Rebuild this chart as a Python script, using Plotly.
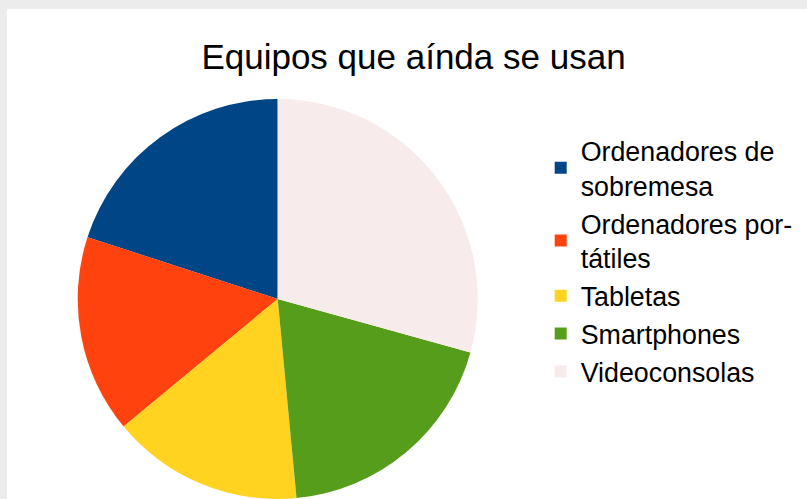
import plotly.graph_objects as go

# Data
labels = ["Ordenadores de<br>sobremesa", "Ordenadores por-<br>tátiles", "Tabletas", "Smartphones", "Videoconsolas"]
values = [20.0, 16.0, 15.5, 19.2, 29.3]
colors = ["#004586", "#ff420e", "#ffd320", "#579d1c", "#f8ebeb"]
title_text = "Equipos que aínda se usan"

W, H = 807, 499
BG = "#ececec"

first_angle = 360.0 * values[0] / sum(values)

fig = go.Figure(go.Pie(
    labels=labels,
    values=values,
    sort=False,
    direction="counterclockwise",
    rotation=-first_angle,
    marker=dict(colors=colors, line=dict(width=0)),
    textinfo="none",
    hoverinfo="label+value",
    domain=dict(x=[77.7 / W, 477.7 / W], y=[1 - 499 / H, 1 - 99 / H]),
))

fig.update_layout(
    width=W, height=H,
    margin=dict(l=0, r=0, t=0, b=0),
    paper_bgcolor=BG,
    font=dict(family="Liberation Sans, Arial, sans-serif", color="#000000"),
    title=dict(text=title_text, x=413.5 / W, xanchor="center", xref="container",
               y=1 - 56.5 / H, yanchor="middle", yref="container",
               font=dict(size=35, color="#000000")),
    showlegend=True,
    legend=dict(x=540.7 / W, xanchor="left", y=1 - 261 / H, yanchor="middle",
                font=dict(size=26.8, color="#000000"), bgcolor="rgba(0,0,0,0)",
                traceorder="normal"),
    shapes=[dict(type="rect", xref="paper", yref="paper",
                 x0=7 / W, x1=1.01, y0=-0.01, y1=1 - 9 / H,
                 fillcolor="#ffffff", line=dict(width=0), layer="below")],
)

fig.write_html(
    "out.html",
    config={"displayModeBar": False},
    post_script="document.body.style.margin='0';document.body.style.background='%s';" % BG,
)
